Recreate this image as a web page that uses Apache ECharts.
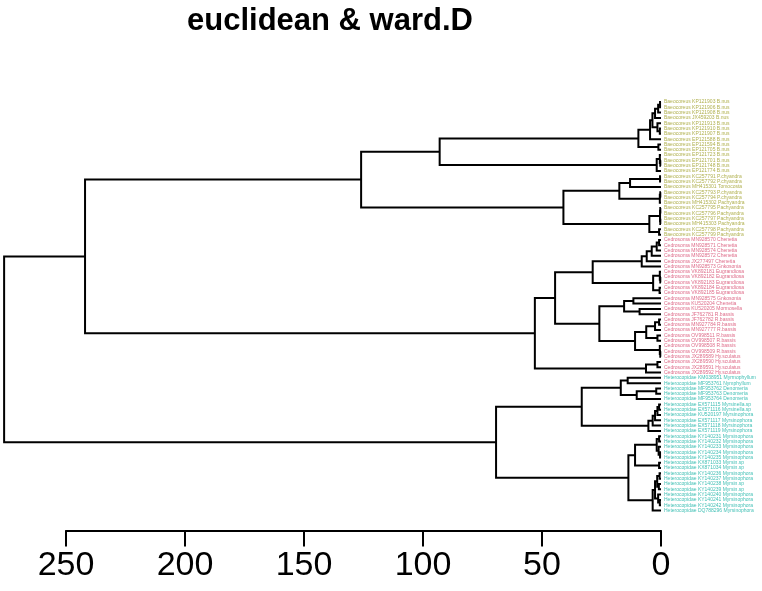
<!DOCTYPE html>
<html>
<head>
<meta charset="utf-8">
<script src="https://cdn.jsdelivr.net/npm/echarts@6/dist/echarts.min.js"></script>
<style>
  html, body { margin: 0; padding: 0; background: #fff; }
  #chart { width: 762px; height: 591px; }
</style>
</head>
<body>
<div id="chart"></div>
<script>
(function () {
  // leaf labels, top to bottom, one list per coloured cluster
  const oliveLabels = [
    'Baeocoreus KP121903 B.nus', 'Baeocoreus KP121906 B.nus', 'Baeocoreus KP121908 B.nus',
    'Baeocoreus JX459203 B.nus', 'Baeocoreus KP121913 B.nus', 'Baeocoreus KP121910 B.nus',
    'Baeocoreus KP121907 B.nus', 'Baeocoreus EP121588 B.nus', 'Baeocoreus EP121594 B.nus',
    'Baeocoreus EP121705 B.nus', 'Baeocoreus EP121723 B.nus', 'Baeocoreus EP121701 B.nus',
    'Baeocoreus EP121748 B.nus', 'Baeocoreus EP121774 B.nus', 'Baeocoreus KC257791 P.chyandra',
    'Baeocoreus KC257792 P.chyandra', 'Baeocoreus MH415301 Tomocosta', 'Baeocoreus KC257793 P.chyandra',
    'Baeocoreus KC257794 P.chyandra', 'Baeocoreus MH415302 Pachyandra', 'Baeocoreus KC257795 Pachyandra',
    'Baeocoreus KC257796 Pachyandra', 'Baeocoreus KC257797 Pachyandra', 'Baeocoreus MH415303 Pachyandra',
    'Baeocoreus KC257798 Pachyandra', 'Baeocoreus KC257799 Pachyandra'
  ];
  const redLabels = [
    'Cedrosoma MN928570 Chenetia', 'Cedrosoma MN928571 Chenetia', 'Cedrosoma MN928574 Chenetia',
    'Cedrosoma MN928572 Chenetia', 'Cedrosoma JX277497 Chenetia', 'Cedrosoma MN928573 Gnkosonia',
    'Cedrosoma VK892181 Eugrandiosa', 'Cedrosoma VK892182 Eugrandiosa', 'Cedrosoma VK892183 Eugrandiosa',
    'Cedrosoma VK892184 Eugrandiosa', 'Cedrosoma VK892185 Eugrandiosa', 'Cedrosoma MN928575 Gnkosonia',
    'Cedrosoma KU520204 Chenetia', 'Cedrosoma KU520205 Mormosella', 'Cedrosoma JF762781 R.bassis',
    'Cedrosoma JF762782 R.bassis', 'Cedrosoma MN927784 R.bassis', 'Cedrosoma MN927777 R.bassis',
    'Cedrosoma OV998511 R.bassis', 'Cedrosoma OV998507 R.bassis', 'Cedrosoma OV998508 R.bassis',
    'Cedrosoma OV998509 R.bassis', 'Cedrosoma JX289589 Hy.sculatus', 'Cedrosoma JX289590 Hy.sculatus',
    'Cedrosoma JX289591 Hy.sculatus', 'Cedrosoma JX289592 Hy.sculatus'
  ];
  const tealLabels = [
    'Heterocopidae KM038951 Myrmophyllum', 'Heterocopidae MF953761 Nymphyllum', 'Heterocopidae MF953762 Denomeria',
    'Heterocopidae MF953763 Denomeria', 'Heterocopidae MF953764 Denomeria', 'Heterocopidae EX571115 Myrsinella.sp',
    'Heterocopidae EX571116 Myrsinella.sp', 'Heterocopidae KU520197 Myrsinophora', 'Heterocopidae EX571117 Myrsinophora',
    'Heterocopidae EX571118 Myrsinophora', 'Heterocopidae EX571119 Myrsinophora', 'Heterocopidae KY140231 Myrsinophora',
    'Heterocopidae KY140232 Myrsinophora', 'Heterocopidae KY140233 Myrsinophora', 'Heterocopidae KY140234 Myrsinophora',
    'Heterocopidae KY140235 Myrsinophora', 'Heterocopidae KX871033 Myrsin.sp', 'Heterocopidae KX871034 Myrsin.sp',
    'Heterocopidae KY140236 Myrsinophora', 'Heterocopidae KY140237 Myrsinophora', 'Heterocopidae KY140238 Myrsin.sp',
    'Heterocopidae KY140239 Myrsin.sp', 'Heterocopidae KY140240 Myrsinophora', 'Heterocopidae KY140241 Myrsinophora',
    'Heterocopidae KY140242 Myrsinophora', 'Heterocopidae DQ788296 Myrsinophora'
  ];
  const clusterColors = ['#9c9c22', '#d6456a', '#12b0a3'];

  // merges: [height, left, right]; a number is a leaf index (top-to-bottom order)
  const oliveTree = [126,
    [93,
      [9.5,
        [4.6, [3.6, [2.5, [1.2, [0.4, 0, 1], 2], 3], [1.5, 4, [0.5, 5, 6]]], 7],
        [1.1, 8, 9]],
      [1.8, [0.5, 10, [0.3, 11, 12]], 13]],
    [41,
      [17.5, [13, [0.4, 14, 15], 16], [0.5, [0.3, 17, 18], 19]],
      [4.9, [0.4, [0.3, 20, 21], [0.3, 22, 23]], [0.8, 24, 25]]]
  ];
  const redTree = [53,
    [44.5,
      [28.7,
        [8.1, [6, [3.9, [1.8, [0.8, 26, 27], 28], 29], 30], 31],
        [3.3, [0.5, 32, [0.3, 33, 34]], [0.6, 35, 36]]],
      [25.9,
        [15.5, [11.6, 37, 38], [9, 39, 40]],
        [10.9, [6.2, [2.5, [0.8, 41, 42], 43], [1.5, 44, 45]], [0.5, 46, [0.3, 47, 48]]]]],
    [6.3, [1.5, 49, 50], 51]
  ];
  const tealTree = [69.3,
    [33.3,
      [16.9, [14, 52, 53], [10.2, [2, 54, 55], 56]],
      [5.3, [3.5, [2.5, [1.5, [0.8, 57, 58], 59], 60], 61], 62]],
    [13.7,
      [10.9, [1.8, [0.8, 63, 64], [1, 65, [0.4, 66, 67]]], [0.8, 68, 69]],
      [3.5, [2.5, [1.6, [0.6, 70, 71], [0.9, 72, 73]], [1.2, 74, [0.5, 75, 76]]], 77]]
  ];
  const upperHeight = 242;
  const rootHeight = 276;

  const heightTicks = { min: 0, max: 250, interval: 50 };

  const labels = oliveLabels.concat(redLabels, tealLabels);
  const groupOf = [];
  [oliveLabels, redLabels, tealLabels].forEach((list, g) => list.forEach(() => groupOf.push(g)));

  const root = [rootHeight, [upperHeight, oliveTree, redTree], tealTree];

  // walk the merges like plot.hclust: leaf at height 0, node sits midway between children
  const segments = [];
  const place = (node) => {
    if (typeof node === 'number') return { h: 0, y: node };
    const l = place(node[1]);
    const r = place(node[2]);
    segments.push({ coords: [[l.h, l.y], [node[0], l.y], [node[0], r.y], [r.h, r.y]] });
    return { h: node[0], y: (l.y + r.y) / 2 };
  };
  place(root);

  const leafPoints = labels.map((name, i) => ({
    value: [0, i],
    label: { color: clusterColors[groupOf[i]] },
  }));

  const chart = echarts.init(document.getElementById('chart'), null, { renderer: 'canvas' });
  chart.setOption({
    animation: false,
    backgroundColor: '#fff',
    title: {
      text: 'euclidean & ward.D',
      left: 182,
      top: 1,
      textStyle: { fontFamily: 'Liberation Sans, Arial, sans-serif', fontWeight: 'bold', fontSize: 31, color: '#000' },
    },
    grid: { left: 66, right: 101, top: 102, bottom: 80.5 },
    xAxis: {
      type: 'value',
      inverse: true,
      min: heightTicks.min,
      max: heightTicks.max,
      interval: heightTicks.interval,
      position: 'bottom',
      offset: 20,
      axisLine: { show: true, onZero: false, lineStyle: { color: '#000', width: 2 } },
      axisTick: { show: true, length: 16, lineStyle: { color: '#000', width: 2 } },
      axisLabel: { margin: 18, fontSize: 34, color: '#000', fontFamily: 'Liberation Sans, Arial, sans-serif' },
      splitLine: { show: false },
    },
    yAxis: {
      type: 'value',
      inverse: true,
      min: 0,
      max: labels.length - 1,
      show: false,
    },
    series: [
      {
        type: 'lines',
        coordinateSystem: 'cartesian2d',
        polyline: true,
        clip: false,
        silent: true,
        lineStyle: { color: '#000', width: 2, opacity: 1 },
        data: segments,
      },
      {
        type: 'scatter',
        clip: false,
        silent: true,
        symbolSize: 0,
        label: {
          show: true,
          position: 'right',
          distance: 3,
          fontSize: 5,
          fontFamily: 'Liberation Sans, Arial, sans-serif',
          formatter: (p) => labels[p.dataIndex],
        },
        data: leafPoints,
      },
    ],
  });
})();
</script>
</body>
</html>
